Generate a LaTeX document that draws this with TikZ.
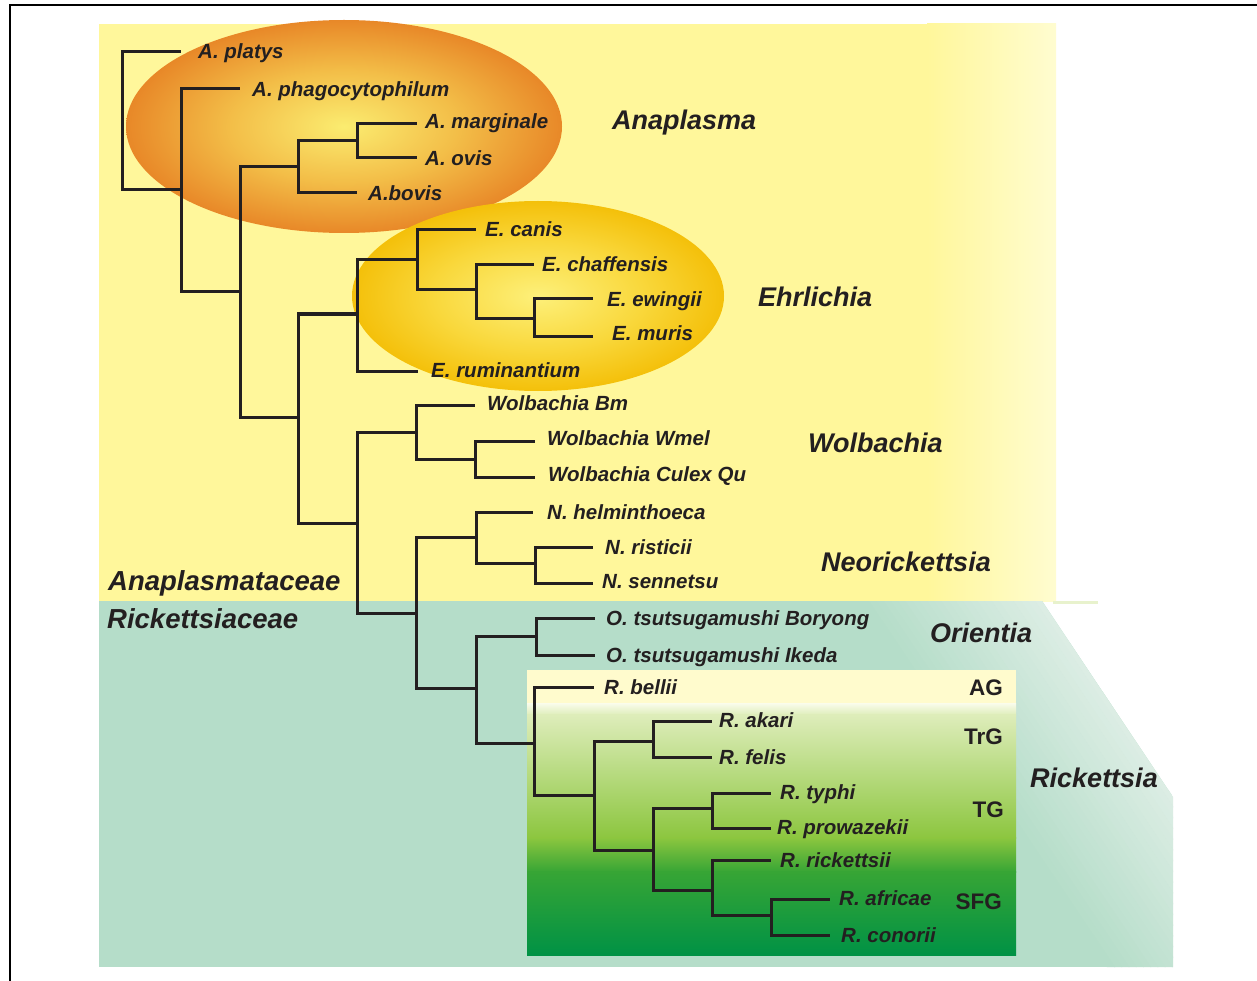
\documentclass[tikz,border=0pt]{standalone}
\usepackage{fontspec}
\setmainfont{Liberation Sans}
\definecolor{ink}{RGB}{35,31,32}
\definecolor{ybg}{RGB}{255,247,155}
\definecolor{ylight}{RGB}{255,252,208}
\definecolor{tealc}{RGB}{181,221,201}
\definecolor{tlight}{RGB}{220,237,228}
\definecolor{strip}{RGB}{232,242,205}
\definecolor{anaIn}{RGB}{251,236,112}
\definecolor{anaMid}{RGB}{243,190,72}
\definecolor{anaOut}{RGB}{232,136,40}
\definecolor{ehrIn}{RGB}{253,240,122}
\definecolor{ehrMid}{RGB}{249,216,60}
\definecolor{ehrOut}{RGB}{244,192,10}
\definecolor{agY}{RGB}{255,251,205}
\definecolor{gA}{RGB}{250,252,236}
\definecolor{gB}{RGB}{222,237,186}
\definecolor{gC}{RGB}{140,198,63}
\definecolor{gD}{RGB}{55,165,53}
\definecolor{gE}{RGB}{0,146,69}
\pgfdeclareradialshading{anashade}{\pgfpoint{0bp}{0bp}}{color(0bp)=(anaIn); color(13bp)=(anaMid); color(25bp)=(anaOut); color(50bp)=(anaOut)}
\pgfdeclareradialshading{ehrshade}{\pgfpoint{0bp}{0bp}}{color(0bp)=(ehrIn); color(14bp)=(ehrMid); color(25bp)=(ehrOut); color(50bp)=(ehrOut)}
\begin{document}
\begin{tikzpicture}[x=1pt,y=-1pt,
  branch/.style={draw=ink,line width=3pt},
  leaf/.style={anchor=west,inner sep=0pt,text=ink,font=\fontsize{20.5}{21}\selectfont\bfseries\itshape,text height=14.7pt,text depth=0pt},
  grp/.style={anchor=west,inner sep=0pt,text=ink,font=\fontsize{27}{28}\selectfont\bfseries\itshape,text height=19.3pt,text depth=0pt},
  fam/.style={anchor=west,inner sep=0pt,text=ink,font=\fontsize{27.5}{28}\selectfont\bfseries\itshape,text height=19.7pt,text depth=0pt},
  sub/.style={anchor=east,inner sep=0pt,text=ink,font=\fontsize{22.5}{24}\selectfont\bfseries,text height=16.1pt,text depth=0pt}]
\useasboundingbox (0,0) rectangle (1257,981);
\clip (0,0) rectangle (1257,981);
\fill[white] (0,0) rectangle (1257,981);
% frame
\draw[line width=2pt,black] (10,5) rectangle (1275,995);
% yellow family background
\fill[ybg] (99,24) rectangle (928,601);
\shade[left color=ybg,right color=ylight] (927,24) rectangle (1056,601);
% teal family background
\begin{scope}
  \clip (99,601) -- (1042,601) -- (1173,797) -- (1173,967) -- (99,967) -- cycle;
  \fill[tealc] (99,601) rectangle (1173,967);
  \begin{scope}[shift={(1107.5,699)},rotate=33.9]
    \foreach \i [evaluate=\i as \p using {int(100-100*\i/24)}] in {0,...,24}
      {\fill[tlight!\p!tealc] ({(-6*\i-6)*1pt},-400pt) rectangle ({(-6*\i+0.6)*1pt},400pt);}
  \end{scope}
\end{scope}
\fill[strip] (1053,601) rectangle (1098,604);
% genus ellipses
\shade[shading=anashade] (344,126.5) ellipse [x radius=218pt,y radius=106.5pt];
\shade[shading=ehrshade] (538,296) ellipse [x radius=186pt,y radius=95pt];
% Rickettsia group box
\fill[agY] (527,670) rectangle (1016,703.5);
\shade[top color=gA,bottom color=gB] (527,703) rectangle (1016,715);
\shade[top color=gB,bottom color=gC] (527,714.5) rectangle (1016,838);
\shade[top color=gC,bottom color=gD] (527,837.5) rectangle (1016,872);
\shade[top color=gD,bottom color=gE] (527,871.5) rectangle (1016,955);
% tree: internal nodes
\coordinate (n1) at (122,121);
\coordinate (n2) at (181,190);
\coordinate (n3) at (240,292);
\coordinate (n4) at (298,167);
\coordinate (n5) at (357,141);
\coordinate (n6) at (298,417);
\coordinate (n7) at (357,314);
\coordinate (n8) at (417,260);
\coordinate (n9) at (476,290);
\coordinate (n9b) at (534,318);
\coordinate (n10) at (357,523);
\coordinate (n11) at (416,432);
\coordinate (n12) at (475,459);
\coordinate (n13) at (416,613);
\coordinate (n14) at (476,537);
\coordinate (n15) at (535,563);
\coordinate (n16) at (476,688);
\coordinate (n17) at (536,636);
\coordinate (n18) at (534,743);
\coordinate (n19) at (594,795);
\coordinate (n20) at (653,741);
\coordinate (n21) at (653,850);
\coordinate (n22) at (712,808);
\coordinate (n23) at (712,890);
\coordinate (n24) at (771,915);
% tips
\coordinate (tplatys) at (181,52);
\coordinate (tphago) at (240,89);
\coordinate (tmarg) at (417,124);
\coordinate (tovis) at (417,158);
\coordinate (tbovis) at (357,193);
\coordinate (tcanis) at (476,230);
\coordinate (tchaf) at (534,265);
\coordinate (tewin) at (593,299);
\coordinate (tmuris) at (593,336);
\coordinate (trum) at (418,371);
\coordinate (tbm) at (475,405);
\coordinate (twmel) at (535,441);
\coordinate (tculex) at (535,477);
\coordinate (thelm) at (533,512);
\coordinate (trist) at (593,547);
\coordinate (tsenn) at (593,583);
\coordinate (tbory) at (595,618);
\coordinate (tiked) at (595,655);
\coordinate (tbell) at (594,687);
\coordinate (takar) at (712,721);
\coordinate (tfeli) at (712,757);
\coordinate (ttyph) at (771,793);
\coordinate (tprow) at (771,828);
\coordinate (trick) at (771,860);
\coordinate (tafri) at (830,899);
\coordinate (tcono) at (830,935);
% branches
\foreach \a/\b in {n1/tplatys,n1/n2,n2/tphago,n2/n3,n3/n4,n3/n6,n4/n5,n4/tbovis,
  n5/tmarg,n5/tovis,n6/n7,n6/n10,n7/n8,n7/trum,n8/tcanis,n8/n9,n9/tchaf,n9/n9b,
  n9b/tewin,n9b/tmuris,n10/n11,n10/n13,n11/tbm,n11/n12,n12/twmel,n12/tculex,
  n13/n14,n13/n16,n14/thelm,n14/n15,n15/trist,n15/tsenn,n16/n17,n16/n18,
  n17/tbory,n17/tiked,n18/tbell,n18/n19,n19/n20,n19/n21,n20/takar,n20/tfeli,
  n21/n22,n21/n23,n22/ttyph,n22/tprow,n23/trick,n23/n24,n24/tafri,n24/tcono}
  {\draw[branch] (\a) |- (\b);}
% leaf labels
\node[leaf] (lplatys) at (198,51) {A. platys};
\node[leaf] (lphago) at (252,89) {A. phagocytophilum};
\node[leaf] (lmarg) at (425,121) {A. marginale};
\node[leaf] (lovis) at (425,158) {A. ovis};
\node[leaf] (lbovis) at (368,193) {A.bovis};
\node[leaf] (lcanis) at (485,229) {E. canis};
\node[leaf] (lchaf) at (542,264) {E. chaffensis};
\node[leaf] (lewin) at (607,299) {E. ewingii};
\node[leaf] (lmuris) at (612,333) {E. muris};
\node[leaf] (lrum) at (431,370) {E. ruminantium};
\node[leaf] (lbm) at (487,403) {Wolbachia Bm};
\node[leaf] (lwmel) at (547,438) {Wolbachia Wmel};
\node[leaf] (lculex) at (548,474) {Wolbachia Culex Qu};
\node[leaf] (lhelm) at (547,512) {N. helminthoeca};
\node[leaf] (lrist) at (605,547) {N. risticii};
\node[leaf] (lsenn) at (602,581) {N. sennetsu};
\node[leaf] (lbory) at (606,618) {O. tsutsugamushi Boryong};
\node[leaf] (liked) at (606,655) {O. tsutsugamushi Ikeda};
\node[leaf] (lbell) at (604,687) {R. bellii};
\node[leaf] (lakar) at (719,720) {R. akari};
\node[leaf] (lfeli) at (719,757) {R. felis};
\node[leaf] (ltyph) at (780,792) {R. typhi};
\node[leaf] (lprow) at (777,827) {R. prowazekii};
\node[leaf] (lrick) at (780,860) {R. rickettsii};
\node[leaf] (lafri) at (839,898) {R. africae};
\node[leaf] (lcono) at (841,935) {R. conorii};
% group labels
\node[grp] (gana) at (612,120) {Anaplasma};
\node[grp] (gehr) at (758,297) {Ehrlichia};
\node[grp] (gwol) at (808,443) {Wolbachia};
\node[grp] (gneo) at (821,562) {Neorickettsia};
\node[grp] (gori) at (930,633) {Orientia};
\node[grp] (gric) at (1030,778) {Rickettsia};
\node[fam] (fana) at (108,581) {Anaplasmataceae};
\node[fam] (fric) at (107,619) {Rickettsiaceae};
\node[sub] (sag) at (1003,687) {AG};
\node[sub] (strg) at (1003,736) {TrG};
\node[sub] (stg) at (1004,809) {TG};
\node[sub] (ssfg) at (1002,901) {SFG};
\end{tikzpicture}
\end{document}
